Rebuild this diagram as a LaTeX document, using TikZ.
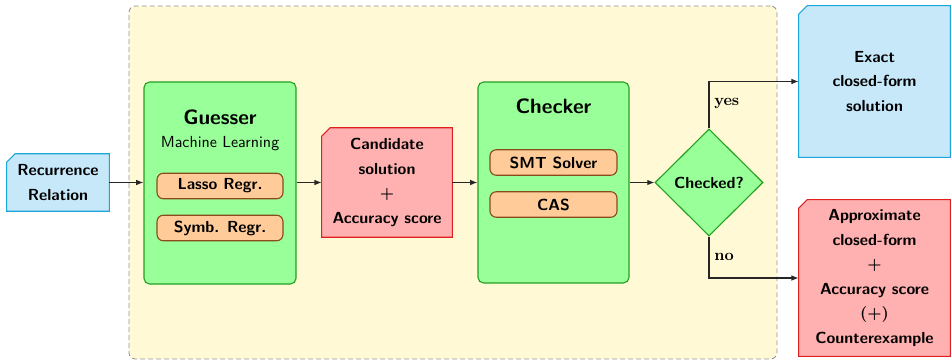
\documentclass[tikz,border=0pt]{standalone}
\usetikzlibrary{shapes.geometric,arrows.meta}
\definecolor{bgyellow}{HTML}{FFF9D6}
\definecolor{boxgreen}{HTML}{99FF99}
\definecolor{greenline}{HTML}{22A022}
\definecolor{boxblue}{HTML}{C6E8F8}
\definecolor{blueline}{HTML}{1CA5DA}
\definecolor{boxred}{HTML}{FFB0B0}
\definecolor{redline}{HTML}{E02020}
\definecolor{boxorange}{HTML}{FFCC99}
\definecolor{orangeline}{HTML}{8B4A1A}
\pgfdeclarelayer{back}
\pgfsetlayers{back,main}
\newcommand\chamfbox[3]{%
  \filldraw[fill=#2, draw=#3, line width=0.7pt]
    ([yshift=-5.3pt]#1.north west) -- ([xshift=5.3pt]#1.north west) -- (#1.north east)
    -- (#1.south east) -- (#1.south west) -- cycle;}
\tikzset{
  txt/.style={font=\sffamily\bfseries\boldmath\fontsize{10}{15.3}\selectfont, align=center, inner sep=0pt},
  chbox/.style={txt, rectangle},
  bigbox/.style={rectangle, rounded corners=3.5pt, fill=boxgreen, draw=greenline, line width=0.7pt, inner sep=0pt},
  tool/.style={txt, rectangle, rounded corners=4pt, fill=boxorange, draw=orangeline, line width=0.7pt,
     minimum width=78.75pt, minimum height=16pt},
  title/.style={font=\sffamily\bfseries\fontsize{13}{15}\selectfont, inner sep=0pt},
  conn/.style={line width=0.7pt, black!85, -{Latex[length=4.5pt,width=3.5pt]}},
  lbl/.style={font=\bfseries, inner sep=0pt, anchor=west}
}
\begin{document}
\begin{tikzpicture}[x=0.625pt,y=-0.625pt]
\useasboundingbox (0,0) rectangle (951,361);
\node[chbox, minimum width=63.75pt, minimum height=35.6pt] (rec) at (58,182.5) {Recurrence\\Relation};
\node[bigbox, minimum width=95pt, minimum height=126.25pt] (guess) at (220,183) {};
\node[title] (gt) at (220,117) {Guesser};
\node[font=\sffamily\fontsize{10}{12}\selectfont, inner sep=0pt] (ml) at (220,144) {Machine Learning};
\node[tool] (lasso) at (220,186) {Lasso Regr.};
\node[tool] (symb) at (220,228) {Symb. Regr.};
\node[chbox, minimum width=81.25pt, minimum height=68.1pt] (cand) at (387,182.5) {Candidate\\solution\\$+$\\Accuracy score};
\node[bigbox, minimum width=94.4pt, minimum height=125.6pt] (check) at (553.5,182.5) {};
\node[title] (ct) at (553.5,106) {Checker};
\node[tool, minimum width=79.4pt] (smt) at (553.5,162.5) {SMT Solver};
\node[tool, minimum width=79.4pt] (cas) at (553.5,204.5) {CAS};
\node[txt, diamond, fill=boxgreen, draw=greenline, line width=0.7pt, minimum width=67.5pt, minimum height=66.9pt] (dec) at (709,182.5) {Checked?};
\node[chbox, minimum width=94.4pt, minimum height=94.4pt] (exact) at (874.5,81.5) {Exact\\closed-form\\solution};
\node[chbox, minimum width=94.4pt, minimum height=97.5pt] (approx) at (874.5,278) {Approximate\\closed-form\\$+$\\Accuracy score\\$(+)$\\Counterexample};
\begin{pgfonlayer}{back}
\node[draw=gray!85, fill=bgyellow, dashed, dash pattern=on 3pt off 2pt, rounded corners=4pt,
  line width=0.55pt, minimum width=405pt, minimum height=220.6pt, inner sep=0pt] (bg) at (453,182.5) {};
\chamfbox{rec}{boxblue}{blueline}
\chamfbox{cand}{boxred}{redline}
\chamfbox{exact}{boxblue}{blueline}
\chamfbox{approx}{boxred}{redline}
\end{pgfonlayer}
\draw[conn] (rec.east) -- (guess.west |- rec.east);
\draw[conn] (guess.east |- cand.west) -- (cand.west);
\draw[conn] (cand.east) -- (check.west |- cand.east);
\draw[conn] (check.east |- dec.west) -- (dec.west);
\draw[conn] (dec.north) |- (exact.west);
\draw[conn] (dec.south) |- (approx.west);
\node[lbl] (yes) at (714,103) {yes};
\node[lbl] (no) at (714,257) {no};
\end{tikzpicture}
\end{document}
